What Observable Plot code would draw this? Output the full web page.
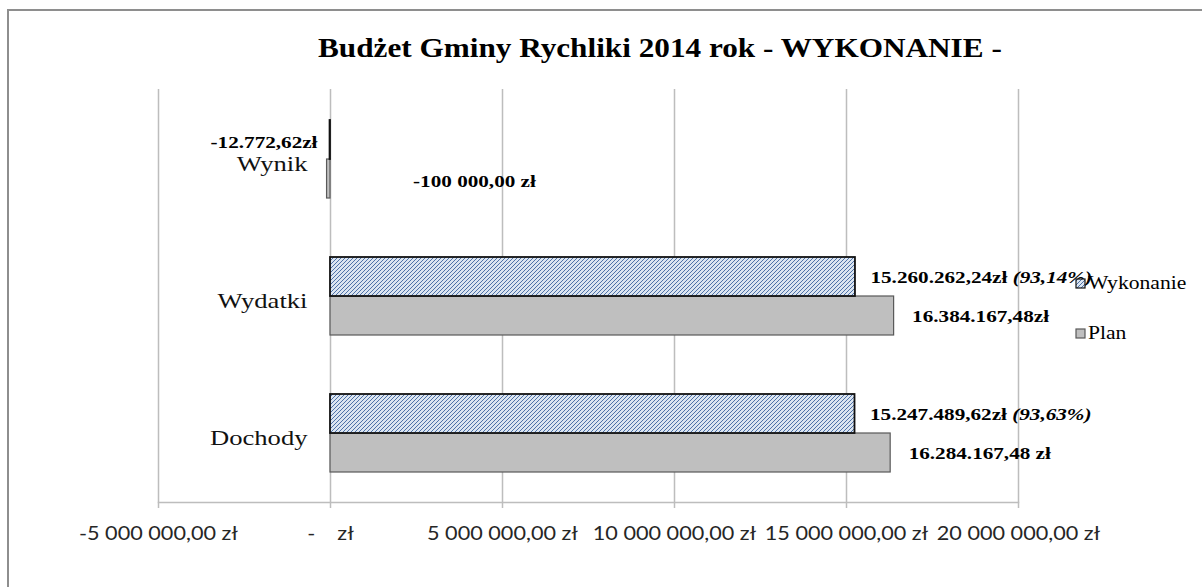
<!DOCTYPE html>
<html><head><meta charset="utf-8">
<script src="https://cdn.jsdelivr.net/npm/d3@7"></script>
<script src="https://cdn.jsdelivr.net/npm/@observablehq/plot@0.6"></script>
<style>
html,body{margin:0;padding:0;background:#fff;}
body{width:1202px;height:587px;overflow:hidden;position:relative;}
#frame{position:absolute;left:7px;top:9px;width:1400px;height:800px;border-left:2px solid #8e8e8e;border-top:2px solid #8e8e8e;pointer-events:none;}
#title{position:relative;height:75px;box-sizing:border-box;padding-top:34px;padding-left:318px;font:bold 28px "Liberation Serif",serif;line-height:28px;color:#000;white-space:nowrap;}
#title span{display:inline-block;transform:scaleX(1.115);transform-origin:0 50%;}
#chart{position:relative;}
#legend{position:absolute;left:0;top:0;font:18px "Liberation Serif",serif;color:#000;}
.item{position:absolute;display:flex;align-items:center;white-space:nowrap;line-height:18px;}
.item svg{margin-right:2px;}
.item span{display:inline-block;transform:scaleX(1.2);transform-origin:0 50%;}
</style></head>
<body>
<div id="frame"></div>
<div id="title"><span>Budżet Gminy Rychliki 2014 rok - WYKONANIE -</span></div>
<div id="chart"></div>
<div id="legend"></div>
<script>
const categories = ["Wynik", "Wydatki", "Dochody"];
const seriesNames = ["Wykonanie", "Plan"];
const wykonanie = [-12772.62, 15260262.24, 15247489.62];
const plan = [-100000.00, 16384167.48, 16284167.48];
const wykonanieLabels = ["-12.772,62zł", "15.260.262,24zł (93,14%)", "15.247.489,62zł (93,63%)"];
const planLabels = ["-100 000,00 zł", "16.384.167,48zł", "16.284.167,48 zł"];
const xTicks = [-5000000, 0, 5000000, 10000000, 15000000, 20000000];
const xTickLabels = ["-5 000 000,00 zł", "-\u00a0\u00a0\u00a0\u00a0zł", "5 000 000,00 zł", "10 000 000,00 zł", "15 000 000,00 zł", "20 000 000,00 zł"];

const rows = categories.map((c, i) => ({
  category: c, wykonanie: wykonanie[i], plan: plan[i],
  wLabel: wykonanieLabels[i], pLabel: planLabels[i]
}));

const serif = "'Liberation Serif', 'Times New Roman', serif";
const labelStyle = {fontWeight: "bold", fontSize: 17.5, fontFamily: serif, fill: "#000"};

const svg = Plot.plot({
  width: 1202, height: 512,
  marginTop: 14, marginBottom: 85, marginLeft: 158, marginRight: 184,
  style: {background: "transparent", fontFamily: serif, overflow: "visible"},
  x: {domain: [-5000000, 20000000]},
  y: {domain: categories, paddingInner: 0.433, paddingOuter: 0.2165, axis: null},
  marks: [
    Plot.gridX({ticks: xTicks, stroke: "#bdbdbd", strokeOpacity: 1, strokeWidth: 1.5}),
    Plot.frame({anchor: "bottom", stroke: "#bdbdbd", strokeWidth: 1.5}),
    Plot.axisX({ticks: xTicks, tickFormat: d => xTickLabels[xTicks.indexOf(d)], tickSize: 6, tickPadding: 18,
      stroke: "#bdbdbd", strokeWidth: 1.5, fill: "#262626", fontSize: 19, fontFamily: "Lato", label: null}),
    Plot.barX(rows, {x1: () => 0, x2: "plan", y: "category", insetTop: 39, fill: "#bfbfbf", stroke: "#595959", strokeWidth: 1.2}),
    Plot.barX(rows, {x1: () => 0, x2: "wykonanie", y: "category", insetBottom: 39, fill: "url(#hatch)", stroke: "#111", strokeWidth: 1.8}),
    Plot.text(rows, {x: () => 0, y: "category", text: "category", textAnchor: "end", dx: -23, dy: 4, fontSize: 22, fontFamily: serif, fill: "#111"}),
    Plot.text(rows.filter(r => r.wykonanie > 0), {x: "wykonanie", y: "category", text: "wLabel", textAnchor: "start", dx: 15, dy: -19.5, ...labelStyle}),
    Plot.text(rows.filter(r => r.plan > 0), {x: "plan", y: "category", text: "pLabel", textAnchor: "start", dx: 18, dy: 19.5, ...labelStyle}),
    Plot.text(rows.filter(r => r.wykonanie < 0), {x: () => 0, y: "category", text: "wLabel", textAnchor: "end", dx: -13, dy: -17.5, ...labelStyle}),
    Plot.text(rows.filter(r => r.plan < 0), {x: "plan", y: "category", text: "pLabel", textAnchor: "start", dx: 86, dy: 22, ...labelStyle})
  ]
});

d3.select(svg).insert("defs", ":first-child").html(
  '<pattern id="hatch" patternUnits="userSpaceOnUse" width="4" height="4">' +
  '<rect width="4" height="4" fill="#dbe5f1"/>' +
  '<path d="M-1,1 l2,-2 M0,4 l4,-4 M3,5 l2,-2" stroke="#4f72a8" stroke-width="1"/></pattern>');

// italic percentage part
d3.select(svg).selectAll("text").each(function() {
  const t = this.textContent;
  const m = t.match(/^(.*?zł)(\s*\(.*\))$/);
  if (m && this.childElementCount === 0) {
    this.textContent = m[1];
    d3.select(this).append("tspan").attr("font-style", "italic").text(m[2]);
  }
});

// the reference's lettering is horizontally widened; stretch each label about its anchor
d3.select(svg).selectAll("text").each(function() {
  const isTick = this.closest("g[aria-label='x-axis tick label']") !== null;
  const s = isTick ? 1.14 : 1.21;
  const tr = this.getAttribute("transform") || "";
  const x = +this.getAttribute("x") || 0, y = +this.getAttribute("y") || 0;
  this.setAttribute("transform", `${tr} translate(${x},${y}) scale(${s},1) translate(${-x},${-y})`);
});

document.getElementById("chart").appendChild(svg);

const legend = d3.select("#legend");
const legendItems = [
  {name: seriesNames[0], fill: "url(#hatch)", stroke: "#111", top: 274},
  {name: seriesNames[1], fill: "#bfbfbf", stroke: "#595959", top: 324}
];
legendItems.forEach(it => {
  const div = legend.append("div").attr("class", "item").style("left", "1075px").style("top", it.top + "px");
  const s = div.append("svg").attr("width", 11).attr("height", 11);
  s.append("rect").attr("x", 1).attr("y", 1).attr("width", 9).attr("height", 9).attr("fill", it.fill).attr("stroke", it.stroke).attr("stroke-width", 1.2);
  div.append("span").text(it.name);
});
</script>
</body></html>
